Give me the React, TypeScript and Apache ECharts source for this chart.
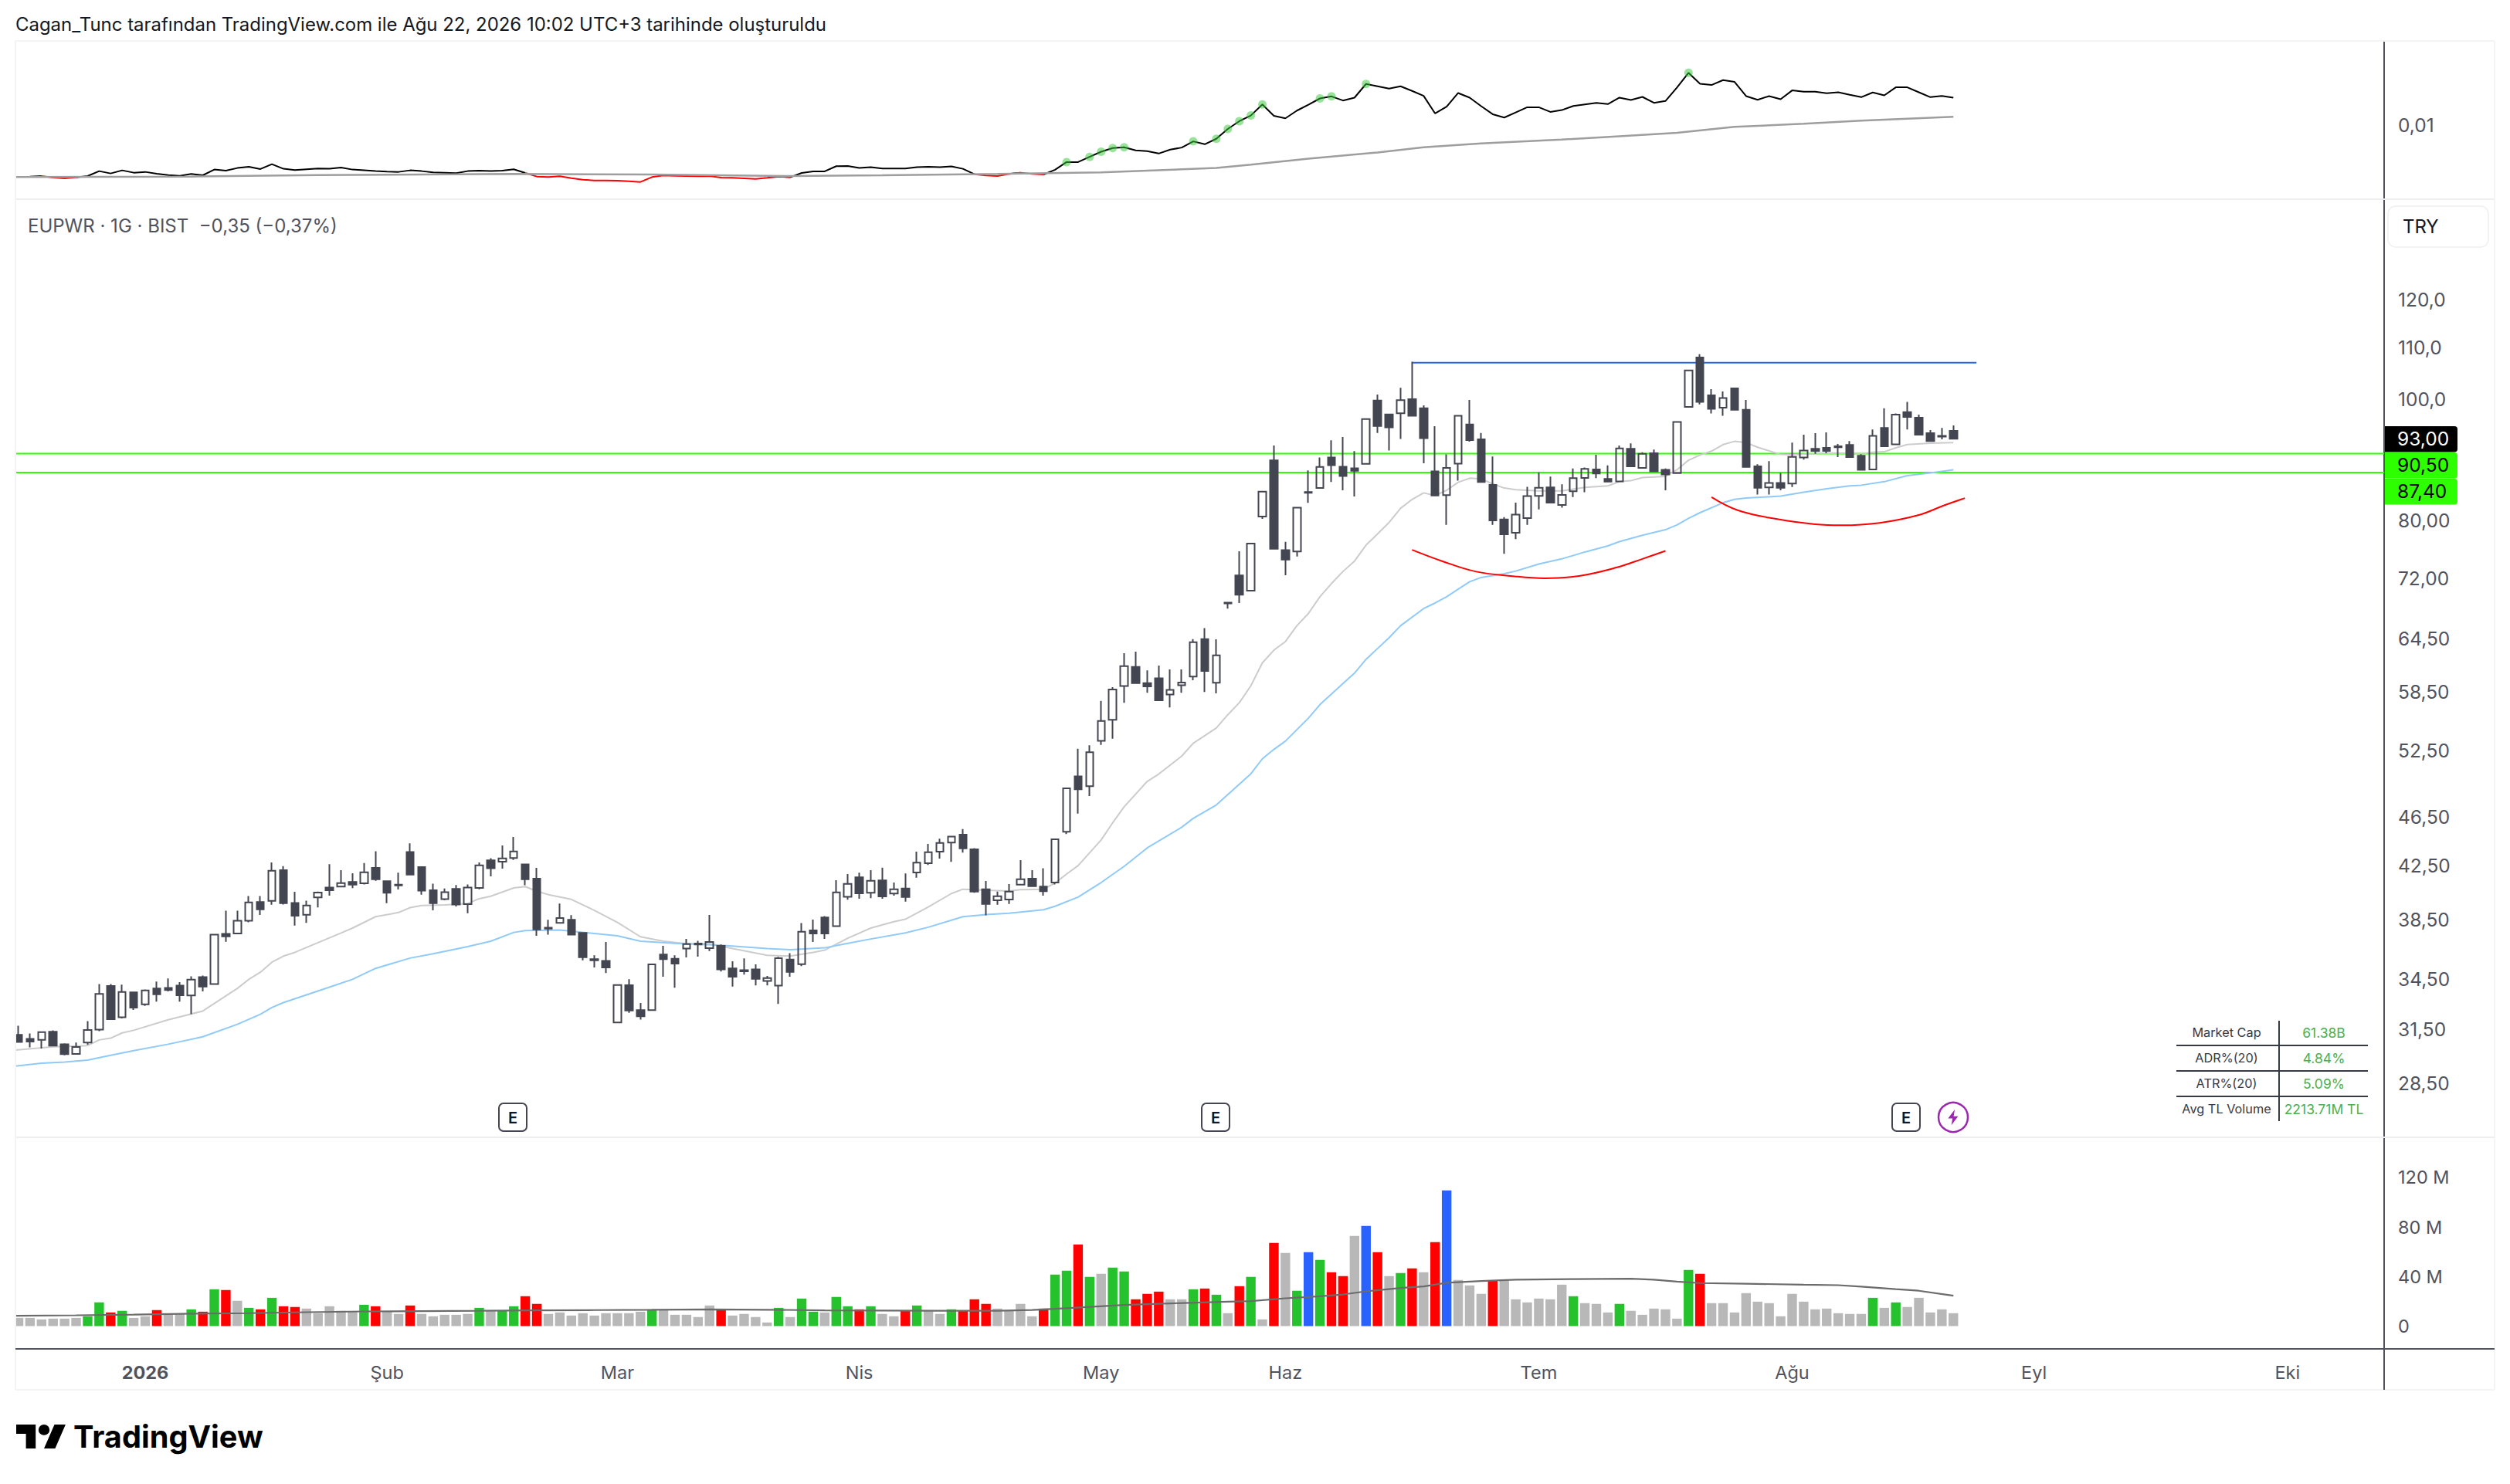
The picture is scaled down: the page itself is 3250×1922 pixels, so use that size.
import React, { useEffect, useRef } from "react";
import * as echarts from "echarts";

const opens = [
  31.16,30.93,30.87,31.34,30.63,30.09,30.72,31.46,34.08,32.18,
  33.68,32.95,33.93,33.96,34.11,33.49,34.64,34.2,37.5,37.52,
  38.42,39.75,39.84,42.15,39.69,38.84,40.09,40.83,40.9,41.24,
  41.14,42.33,41.3,41.05,43.58,42.38,40.62,39.97,40.73,39.6,
  40.79,42.91,42.81,43.1,42.6,41.5,37.93,38.26,38.48,37.56,
  35.8,35.69,31.88,34.13,32.6,32.6,36.11,35.83,36.51,36.84,
  36.53,36.69,35.2,35.08,35.14,34.4,34.1,35.77,35.47,37.74,
  38.65,38.04,40.14,41.6,40.43,41.37,40.38,40.75,41.97,42.69,
  43.6,44.34,44.99,43.79,40.69,39.88,39.94,41.04,41.5,40.9,
  41.2,45.22,50.06,49.16,53.43,55.54,59.08,61.2,59.4,59.92,
  58.16,59.17,60.11,64.4,59.43,68.75,72.36,70.37,80.62,89.36,
  75.82,75.62,84.33,84.97,89.86,88.35,88.1,88.8,99.75,97.25,
  97.45,100.0,98.35,87.6,83.85,88.85,95.45,92.9,85.45,80.2,
  78.25,80.4,83.75,85.05,82.35,84.45,86.55,87.9,86.4,86.0,
  91.3,88.15,90.55,87.85,87.3,98.6,107.95,100.7,98.45,102.0,
  98.05,88.4,85.05,85.75,85.65,89.85,91.3,91.45,91.7,91.95,
  90.15,87.9,94.85,92.05,97.65,96.65,93.95,93.5,94.35,
];
const closes = [
  30.76,30.78,31.31,30.55,30.08,30.47,31.44,33.59,32.07,33.71,
  32.76,33.81,33.56,33.83,33.51,34.48,34.05,37.44,37.33,38.41,
  39.73,39.22,42.11,39.67,38.77,39.5,40.45,40.63,41.16,41.04,
  41.99,41.45,40.43,40.98,41.81,40.6,39.67,40.48,39.58,40.82,
  42.52,42.29,43.07,43.62,41.45,37.8,37.86,38.61,37.44,35.93,
  35.72,35.26,34.14,32.58,32.24,35.46,35.8,35.51,36.8,36.77,
  36.95,35.14,34.66,35.01,34.53,34.58,35.86,34.97,37.65,37.52,
  37.52,40.47,41.1,40.4,41.33,40.17,40.7,40.12,42.73,43.56,
  44.3,44.82,43.87,40.53,39.62,40.18,40.53,41.45,40.92,40.55,
  44.6,48.98,48.88,52.32,55.41,58.7,61.27,59.4,59.05,57.56,
  58.66,59.46,64.02,60.74,62.5,68.85,69.85,76.73,84.38,75.99,
  74.5,81.96,84.2,88.3,88.6,86.85,87.67,96.4,95.2,94.95,
  99.8,97.0,93.1,83.8,88.15,97.0,92.75,85.9,80.05,78.05,
  80.9,83.7,85.0,82.7,83.9,86.5,88.0,87.25,85.95,91.35,
  88.4,90.45,87.6,87.1,95.9,105.4,99.5,98.25,100.2,98.05,
  88.3,85.0,85.75,85.0,89.95,91.0,90.95,90.95,91.55,89.9,
  87.85,93.5,91.7,97.2,96.8,93.7,92.6,93.35,93.0,
];
const lows = [
  30.72,30.45,30.39,30.55,30.01,30.05,30.6,31.37,32.07,32.11,
  32.62,32.86,33.12,33.75,33.12,32.36,33.74,34.2,36.96,37.48,
  38.3,38.83,39.56,39.58,38.07,38.27,39.37,40.22,40.84,40.78,
  41.06,41.33,39.67,40.68,41.81,40.29,39.15,39.88,39.43,38.95,
  40.7,41.67,42.27,42.95,41.0,37.37,37.44,38.22,37.44,35.72,
  35.26,34.9,31.88,32.44,32.05,32.6,34.66,33.97,35.92,35.97,
  36.33,35.0,34.04,34.8,34.12,34.12,32.98,34.66,35.35,36.95,
  37.16,38.04,39.93,40.0,40.04,40.0,40.22,39.78,41.57,42.55,
  43.05,42.8,43.53,40.43,38.79,39.56,39.62,41.04,40.88,40.22,
  41.06,45.04,46.75,48.28,53.03,53.64,57.3,59.4,58.35,57.56,
  56.8,58.35,59.72,58.44,58.29,68.1,68.81,70.37,80.27,75.99,
  72.4,74.93,82.67,84.97,85.9,84.6,83.65,88.67,94.0,91.0,
  92.95,97.0,88.9,83.8,79.4,86.1,92.5,85.8,79.4,75.3,
  77.35,79.4,81.7,82.7,81.95,83.55,84.3,86.5,85.95,86.0,
  88.4,88.15,87.6,84.6,87.3,98.6,99.05,97.4,97.0,98.05,
  88.3,83.95,83.95,84.6,85.1,89.5,90.45,90.55,89.9,89.9,
  87.85,87.9,91.7,92.05,94.6,93.7,92.45,92.9,93.0,
];
const highs = [
  31.68,31.24,31.31,31.42,30.68,30.72,31.95,34.2,34.2,34.17,
  33.72,33.87,34.36,34.56,34.32,34.69,34.74,37.44,39.13,39.13,
  40.2,40.2,42.75,42.46,40.51,39.86,40.53,42.62,42.15,41.91,
  42.71,43.64,41.35,41.95,44.27,42.38,41.12,40.75,41.02,41.06,
  42.75,43.09,44.1,44.8,42.6,42.33,38.48,39.64,38.81,37.56,
  36.05,36.95,34.14,34.5,33.03,35.46,36.69,36.05,37.16,37.03,
  38.82,36.77,35.66,35.85,35.46,34.71,35.95,36.2,38.25,38.5,
  38.74,41.38,41.85,41.95,42.15,42.34,41.2,41.9,43.6,44.22,
  44.65,44.82,45.45,43.89,41.32,40.53,41.08,42.93,42.15,42.3,
  44.6,48.98,52.67,53.0,57.5,58.95,62.75,62.92,60.8,61.34,
  60.9,60.9,64.4,65.7,64.37,68.85,75.66,76.73,84.38,91.85,
  76.98,81.96,87.76,89.86,92.73,93.28,90.9,96.4,100.85,97.25,
  102.1,107.1,98.85,95.15,90.35,97.0,99.85,94.0,90.0,80.55,
  82.7,85.15,87.4,86.75,85.55,88.05,88.2,90.3,88.55,91.85,
  92.2,90.7,91.15,88.05,95.9,105.4,108.6,101.85,101.4,102.0,
  99.85,88.75,89.25,87.35,92.35,93.7,93.95,94.1,92.1,92.6,
  90.4,94.6,98.35,97.4,99.5,97.2,94.5,94.85,95.3,
];
const volumes = [
  6.6,6.6,5.4,6.0,6.0,6.6,7.9,19.1,11,12.3,
  6.6,7.9,12.9,9.8,9.8,13.5,11.6,29.7,29.1,20.4,
  14.7,13.5,22.8,16,15.4,14.1,10.4,16,12.3,11.6,
  17.2,16,11.6,9.8,16.6,9.8,7.9,9.1,9.1,9.8,
  14.7,12.3,12.3,16,24.1,17.9,9.8,11,8.5,10.4,
  8.5,10.4,10.4,10.4,11.6,13.5,13.5,9.1,9.1,7.3,
  16.6,13.5,8.5,9.8,7.3,2.9,14.7,7.3,22.2,11.6,
  11,23.5,16,13.5,16,9.8,7.9,12.3,16.6,12.3,
  9.8,13.5,12.3,21.6,17.9,14.1,12.9,17.9,7.9,14.1,
  41.5,44.7,65.8,39.7,42.2,47.1,44,21.6,26,27.8,
  21.6,21.6,29.7,30.3,25.3,10.4,32.2,39.7,5.4,67.1,
  59,28.5,59.6,53.4,43.4,40.3,72.7,80.8,59.6,40.3,
  42.8,46.5,43.4,67.7,109.5,37.2,32.8,26,36.6,36.6,
  21.6,19.1,22.2,21.6,33.4,24.1,18.5,17.9,11,17.9,
  12.3,9.1,14.1,13.5,6,45.3,42.2,18.5,18.5,11,
  26.6,19.7,18.5,7.9,26,19.7,13.5,14.1,10.4,9.8,
  9.8,22.8,14.7,19.1,15.4,22.8,11,13.5,10.4,
];
// n neutral, u up, d down, b highlighted
const volumeTones = [
  "nnnnnnuudu","nndnnududn","ududdnnnnn","udnndnnnnn","unuuddnnnn","nnnnnunnnn","ndnnnnunuu",
  "nuudunndun","nudddnnnnd","uudunuuddd","nnudundund","nubuddnbdn","udndbnnndn","nnnnnunnnu",
  "nnnnnudnnn","nnnnnnnnnn","nununnnnn",
].join("").split("");

const volumeAvg: [number, number][] = [
  [-0.268,8.3],[5,8.7],[10,9.3],[15,10],[20,10.4],[25,11.2],[30,11.8],[35,12],[40,12.3],[45,12.7],[50,12.9],[55,13.1],[60,13.5],[65,13.2],[70,12.7],[75,12.5],[80,12.3],[85,12.3],
  [88,13],[90,13.9],[93,15.5],[96,17],[100,18.3],[105,19.7],[107,20.2],[110,22.4],[113,24],[115,25.5],[117,28],[120,30.7],[122,32],[124,34.9],[127,36.4],[130,37.4],[135,37.9],[140,38.2],[142,37.4],[144,35.9],[146,34.7],[150,34.2],[155,33.4],[158,33],[160,31.8],[163,29.8],[165,28.5],[168,24.5],
];

const maShort: [number, number][] = [
  [-0.268,30.3],[3,30.48],[6,30.55],[7,30.87],[8,30.97],[9,31.27],[10,31.42],[13,32.03],[14,32.2],[16,32.55],[19,33.93],[20,34.5],[21,34.95],[22,35.6],[23,36.0],[24,36.25],[26,36.9],[28,37.56],[29,37.9],[31,38.7],[33,39.0],[34,39.35],[35,39.5],[37,39.54],[39,39.65],[40,40.0],[41,40.18],[43,40.8],[44,40.9],[45,40.55],[46,40.3],[48,39.95],[50,39.15],[52,38.3],[54,37.3],[56,37.0],[58,36.83],[60,36.83],[62,36.5],[65,36.05],[67,36.0],[69,36.25],[70,36.4],[72,37.2],[74,37.9],[76,38.35],[77,38.52],[79,39.4],[81,40.38],[82,40.7],[84,40.62],[86,40.56],[87,40.66],[89,40.7],[90,41.16],[91,41.85],[92,42.5],[94,44.55],[95,45.97],[96,47.35],[98,49.6],[99,50.27],[101,51.96],[102,53.2],[104,54.71],[105,56.05],[106,57.3],[107,59.1],[108,61.65],[109,63.1],[110,64.1],[111,66.0],[112,67.5],[113,69.6],[114,71.3],[115,72.9],[116,74.3],[117,76.5],[118,78.1],[119,79.75],[120,81.85],[121,83.2],[122,84.2],[123,83.8],[124,84.6],[125,85.85],[126,86.5],[127,86.4],[128,85.6],[129,84.95],[130,84.7],[131,84.6],[132,84.5],[134,84.5],[136,85.05],[138,85.3],[139,85.95],[140,86.1],[141,86.6],[143,86.8],[144,87.85],[145,89.4],[146,90.25],[147,90.9],[148,92.0],[149,92.55],[150,92.35],[151,91.55],[152,90.95],[153,90.35],[154,90.3],[155,90.4],[157,90.6],[159,90.55],[160,90.45],[161,90.7],[162,90.8],[163,91.45],[164,92.0],[166,92.25],[168,92.35],
];
const maLong: [number, number][] = [
  [-0.268,29.42],[2,29.58],[4,29.64],[6,29.75],[8,30.01],[10,30.27],[13,30.63],[16,31.05],[19,31.77],[21,32.36],[22,32.76],[23,33.06],[26,33.77],[29,34.5],[31,35.2],[34,35.87],[36,36.16],[39,36.63],[41,37.0],[43,37.6],[44,37.73],[47,37.77],[49,37.6],[52,37.37],[54,37.0],[57,36.85],[61,36.73],[65,36.5],[67,36.43],[70,36.55],[72,36.85],[74,37.15],[77,37.57],[79,37.96],[82,38.7],[84,38.85],[86,38.95],[89,39.2],[90,39.45],[92,40.12],[94,41.2],[96,42.45],[98,43.9],[101,45.6],[102,46.35],[104,47.5],[107,50.3],[108,51.7],[109,52.6],[110,53.4],[112,55.7],[113,57.1],[115,59.35],[116,60.5],[117,62.05],[119,64.55],[120,66.0],[122,68.1],[123,68.8],[124,69.6],[126,71.55],[127,72.1],[129,72.6],[130,72.95],[132,73.9],[134,74.6],[136,75.55],[138,76.4],[139,77.0],[141,77.9],[143,78.7],[144,79.4],[145,80.35],[146,81.2],[148,82.7],[149,83.2],[150,83.4],[153,83.7],[155,84.3],[157,84.85],[159,85.3],[160,85.4],[162,85.95],[164,86.9],[166,87.35],[168,87.85],
];

// relative-strength line, in units of 0.0001
const rsLine = [
  0,0.5,1.5,-1.5,-3,-1,1.5,11,6.5,12.5,
  8,9.5,6,3.5,2,5.5,3,14,12,17,
  19.5,15,24.5,15.5,13,14.5,16,15.5,18,14,
  12.5,11,10,9.5,12.5,11,8.5,8,7,11,
  12,11,12,14.5,7.5,0.5,-0.5,1,-2.5,-5.5,
  -7,-7,-7.5,-8.5,-10,-0.5,2.5,2,1.5,1,
  1.5,-1.5,-2,-3,-4,-2,0.5,-1,7.5,10.5,
  10.5,20.5,21,17,18.5,16,16,16,18.5,19.5,
  18.5,20,15.5,5,2.5,1.5,5.5,8,5.5,4.5,
  13.5,28.5,28.5,38.5,48.5,55.5,57,51,49.5,45,
  52.5,56.5,68.5,63,73.5,92.5,107.5,118.5,140,118,
  113,128,139.5,151.5,155.5,147.5,153,179.5,175,170.5,
  175,166,156.5,122.5,135.5,162,153,136.5,121,114.5,
  124.5,134.5,134.5,125.5,129,137,140,143,140.5,153,
  148.5,154.5,143,146.5,172.5,201,180,177.5,187,183.5,
  156,149,156,150,167,164.5,164.5,161.5,163.5,158.5,
  154,163,157.5,173,173,163.5,154,156.5,153,
];
const rsAvg: [number, number][] = [
  [-0.268,-0.5],[15,0.5],[26,3.5],[43,5.5],[55,4.5],[67,1.5],[75,3],[85,5.5],[94,8.5],[104,17],[107,23.5],[112,35],[118,47],[122,57],[127,64.5],[134,72],[139,78.5],[144,85],[149,96.5],[155,102.5],[160,108.5],[168,116],
];
const rsWeakRanges = [[2,5],[44,67],[83,86],[87,89]];
const rsSignalBars = [91,93,94,95,96,102,104,105,106,107,108,113,114,117,145];

const priceTicks = [120,110,100,80,72,64.5,58.5,52.5,46.5,42.5,38.5,34.5,31.5,28.5];
const volumeTicks = [0,40,80,120];
const rsTicks = [0.01];
const monthBars = [11,32,52,73,94,110,132,154,175,197];
const monthNames = ["2026","Şub","Mar","Nis","May","Haz","Tem","Ağu","Eyl","Eki"];

const resistanceLine: [number, number][] = [[121,106.9],[170,106.9]];
const supportLevels = [90.5,87.4];
const arcFirst: [number, number][] = [[121,75.85],[123.6,74.3],[126.5,72.9],[129.9,72.25],[132.5,72.0],[135.5,72.3],[138.8,73.45],[141,74.6],[143,75.7]];
const arcSecond: [number, number][] = [[147,83.55],[149.3,81.55],[152.7,80.25],[156,79.5],[158.3,79.35],[161.6,79.7],[165,80.85],[167.2,82.3],[169,83.4]];

const statsRows = [
  ["Market Cap","61.38B"],
  ["ADR%(20)","4.84%"],
  ["ATR%(20)","5.09%"],
  ["Avg TL Volume","2213.71M TL"],
];
const priceTags = [
  { text: "93,00", bg: "#000000", fg: "#ffffff" },
  { text: "90,50", bg: "#2eff00", fg: "#000000" },
  { text: "87,40", bg: "#2eff00", fg: "#000000" },
];

const FONT = "Inter, sans-serif";
const INK = "#50535e";
const CANDLE = "#434651";
const toneColor: Record<string, string> = { n: "#b8b8b8", u: "#26c22e", d: "#ff0000", b: "#2962ff" };

const X_MIN = -0.268;
const X_MAX = 205.4;

echarts.graphic.registerShape("tvMark", echarts.graphic.extendPath("M14 25H7V14H0V7h14v18zM28 25h-8l7.5-18h8L28 25zM20 7a4 4 0 1 0 0 8a4 4 0 1 0 0-8z" as any, {} as any) as any);
echarts.graphic.registerShape("boltMark", echarts.graphic.extendPath("M9 1L3 9h4l-1 6 6-8H8l1-6z" as any, {} as any) as any);

const comma = (v: number, d: number) => v.toFixed(d).replace(".", ",");

function buildGraphic() {
  const light = "#eeeeee";
  const line = (x1: number, y1: number, x2: number, y2: number, stroke: string, lineWidth = 2) => ({
    type: "line", z: 101, shape: { x1, y1, x2, y2 }, style: { stroke, lineWidth }, silent: true,
  });
  const text = (x: number, y: number, t: string, fontSize: number, fill: string, align = "left", fontWeight: any = 400) => ({
    type: "text", z: 102, x, y, style: { text: t, fontSize, fontFamily: FONT, fill, align, verticalAlign: "middle", fontWeight }, silent: true,
  });
  const els: any[] = [
    { type: "rect", z: 100, shape: { x: 0, y: 53, width: 20, height: 1747 }, style: { fill: "#ffffff" }, silent: true },
    line(20, 53, 3230, 53, "#f4f4f4"),
    line(20, 258, 3230, 258, light),
    line(20, 1473, 3230, 1473, light),
    line(20, 1800, 3230, 1800, "#f4f4f4"),
    line(20, 53, 20, 1800, "#f4f4f4"),
    line(3230, 53, 3230, 1800, "#f4f4f4"),
    line(20, 1747, 3230, 1747, INK),
    line(3087, 1747, 3087, 1800, INK),
    text(20, 31, "Cagan_Tunc tarafından TradingView.com ile Ağu 22, 2026 10:02 UTC+3 tarihinde oluşturuldu", 23.95, "#131722"),
    text(36, 292, "EUPWR · 1G · BIST  −0,35 (−0,37%)", 24, INK),
    { type: "rect", z: 101, shape: { x: 3092, y: 267, width: 130, height: 53, r: 10 }, style: { fill: "#fff", stroke: "#f0f0f0", lineWidth: 1.5 } },
    text(3111, 293.5, "TRY", 24, "#131722"),
  ];
  priceTags.forEach((tag, i) => {
    const top = 552 + i * 34;
    els.push({ type: "rect", z: 101, shape: { x: 3088, y: top, width: 94, height: 33.5, r: [0, 4, 4, 0] }, style: { fill: tag.bg } });
    els.push(text(3104, top + 16, tag.text, 24.5, tag.fg));
  });
  [664, 1574, 2468].forEach((cx) => {
    els.push({ type: "rect", z: 101, shape: { x: cx - 18, y: 1429, width: 36, height: 36, r: 6 }, style: { fill: "#fff", stroke: CANDLE, lineWidth: 2 } });
    els.push(text(cx, 1448, "E", 20, "#131722", "center", 600));
  });
  els.push({ type: "circle", z: 101, shape: { cx: 2529, cy: 1447, r: 19 }, style: { fill: "#fff", stroke: "#9c27b0", lineWidth: 2.5 } });
  els.push({ type: "boltMark", z: 102, x: 2518, y: 1435.5, scaleX: 1.45, scaleY: 1.45, style: { fill: "#9c27b0" } });
  // stats table
  const C = "#363a45";
  els.push(line(2951, 1322, 2951, 1452, C));
  [1354, 1387, 1420].forEach((y) => els.push(line(2818, y, 3066, y, C)));
  statsRows.forEach((row, i) => {
    const y = 1337 + i * 33;
    els.push(text(2883, y, row[0], 16.3, C, "center"));
    els.push(text(3009, y, row[1], 17.5, "#4caf50", "center"));
  });
  // brand
  els.push({ type: "tvMark", z: 102, x: 21, y: 1833, scaleX: 1.8, scaleY: 1.72, style: { fill: "#000" } });
  els.push(text(95, 1861, "TradingView", 39.7, "#000", "left", 700));
  return els;
}

function buildOption() {
  const n = opens.length;
  const weakInterior = (i: number) => rsWeakRanges.some(([a, b]) => i > a && i < b);
  const weakAny = (i: number) => rsWeakRanges.some(([a, b]) => i >= a && i <= b);
  const rs = rsLine.map((v) => v / 10000);
  const xAxisBase = { type: "value", min: X_MIN, max: X_MAX, scale: true, splitLine: { show: false }, axisTick: { show: false } };
  const yCommon = {
    position: "right",
    splitLine: { show: false },
    axisTick: { show: false },
    axisLine: { show: true, onZero: false, lineStyle: { color: INK, width: 2 } },
  };
  const labelStyle = { show: true, margin: 18, fontFamily: FONT, fontSize: 24.5, color: INK, padding: [0, 0, 3, 0] };
  const plain = { type: "line", showSymbol: false, symbol: "none", smooth: false, silent: true };
  return {
    animation: false,
    backgroundColor: "#ffffff",
    grid: [
      { left: 20, top: 53, width: 3067, height: 205 },
      { left: 20, top: 258, width: 3067, height: 1215 },
      { left: 20, top: 1473, width: 3067, height: 274 },
    ],
    xAxis: [
      { ...xAxisBase, gridIndex: 0, show: false },
      { ...xAxisBase, gridIndex: 1, show: false },
      {
        ...xAxisBase,
        gridIndex: 2,
        axisLine: { show: false },
        axisLabel: {
          show: true,
          customValues: monthBars,
          margin: 18,
          fontFamily: FONT,
          fontSize: 23.5,
          color: INK,
          hideOverlap: false,
          formatter: (v: number) => {
            const name = monthNames[monthBars.indexOf(Math.round(v))] ?? "";
            return name === "2026" ? `{b|${name}}` : name;
          },
          rich: { b: { fontFamily: FONT, fontSize: 23.5, fontWeight: 700, color: INK } },
        },
      },
    ],
    yAxis: [
      {
        ...yCommon, type: "value", gridIndex: 0, min: -0.00433, max: 0.02627,
        axisLabel: { ...labelStyle, customValues: rsTicks, formatter: (v: number) => comma(v, 2) },
      },
      {
        ...yCommon, type: "log", logBase: 10, gridIndex: 1, min: 25.82, max: 144.3,
        axisLabel: { ...labelStyle, padding: [0, 0, 6, 0], customValues: priceTicks, formatter: (v: number) => comma(v, v >= 100 ? 1 : 2) },
      },
      {
        ...yCommon, type: "value", gridIndex: 2, min: -18.4, max: 152.3,
        axisLabel: { ...labelStyle, fontSize: 23.5, customValues: volumeTicks, formatter: (v: number) => (v === 0 ? "0" : `${v} M`) },
      },
    ],
    series: [
      { ...plain, name: "rs", xAxisIndex: 0, yAxisIndex: 0, z: 3, lineStyle: { color: "#000", width: 2 },
        data: [[X_MIN, 0], ...rs.map((v, i) => [i, weakInterior(i) ? null : v])], connectNulls: false },
      { ...plain, name: "rsWeak", xAxisIndex: 0, yAxisIndex: 0, z: 3, lineStyle: { color: "#ff0000", width: 2 },
        data: rs.map((v, i) => [i, weakAny(i) ? v : null]), connectNulls: false },
      { ...plain, name: "rsAvg", xAxisIndex: 0, yAxisIndex: 0, z: 4, lineStyle: { color: "#9e9e9e", width: 2.5 },
        data: rsAvg.map(([i, v]) => [i, v / 10000]) },
      { type: "scatter", name: "rsSignal", xAxisIndex: 0, yAxisIndex: 0, z: 5, symbolSize: 11, silent: true,
        itemStyle: { color: "rgba(60,200,60,0.65)" }, data: rsSignalBars.map((i) => [i, rs[i]]) },

      { ...plain, name: "level1", xAxisIndex: 1, yAxisIndex: 1, z: 1, lineStyle: { color: "#2eff00", width: 2 },
        data: [[X_MIN, supportLevels[0]], [X_MAX, supportLevels[0]]] },
      { ...plain, name: "level2", xAxisIndex: 1, yAxisIndex: 1, z: 1, lineStyle: { color: "#2eff00", width: 2 },
        data: [[X_MIN, supportLevels[1]], [X_MAX, supportLevels[1]]] },
      { ...plain, name: "maShort", xAxisIndex: 1, yAxisIndex: 1, z: 2, lineStyle: { color: "#cccccc", width: 2 }, data: maShort },
      { ...plain, name: "maLong", xAxisIndex: 1, yAxisIndex: 1, z: 2, lineStyle: { color: "#90caf9", width: 2 }, data: maLong },
      { ...plain, name: "resistance", xAxisIndex: 1, yAxisIndex: 1, z: 2, lineStyle: { color: "#2962ff", width: 2 }, data: resistanceLine },
      {
        type: "candlestick", name: "EUPWR", xAxisIndex: 1, yAxisIndex: 1, z: 3, silent: true, barWidth: 10,
        itemStyle: { color: "transparent", color0: CANDLE, borderColor: CANDLE, borderColor0: CANDLE, borderColorDoji: CANDLE, borderWidth: 2 },
        data: opens.map((o, i) => [i, o, closes[i], lows[i], highs[i]]),
      },
      { ...plain, name: "arc1", xAxisIndex: 1, yAxisIndex: 1, z: 4, smooth: 0.4, lineStyle: { color: "#ff0000", width: 2 }, data: arcFirst },
      { ...plain, name: "arc2", xAxisIndex: 1, yAxisIndex: 1, z: 4, smooth: 0.4, lineStyle: { color: "#ff0000", width: 2 }, data: arcSecond },

      {
        type: "bar", name: "Volume", xAxisIndex: 2, yAxisIndex: 2, z: 2, barWidth: 12.4, silent: true,
        data: volumes.slice(0, n).map((v, i) => ({ value: [i, v], itemStyle: { color: toneColor[volumeTones[i]] ?? toneColor.n } })),
      },
      { ...plain, name: "volumeAvg", xAxisIndex: 2, yAxisIndex: 2, z: 3, lineStyle: { color: "#6b6b6b", width: 2.2 }, data: volumeAvg },
    ],
    graphic: { elements: buildGraphic() },
  };
}

export default function App() {
  const ref = useRef<HTMLDivElement>(null);
  useEffect(() => {
    if (!ref.current) return;
    const chart = echarts.init(ref.current, undefined, { renderer: "svg" });
    chart.setOption(buildOption() as any);
    return () => chart.dispose();
  }, []);
  return <div ref={ref} style={{ position: "absolute", left: 0, top: 0, width: 3250, height: 1922, background: "#fff" }} />;
}
